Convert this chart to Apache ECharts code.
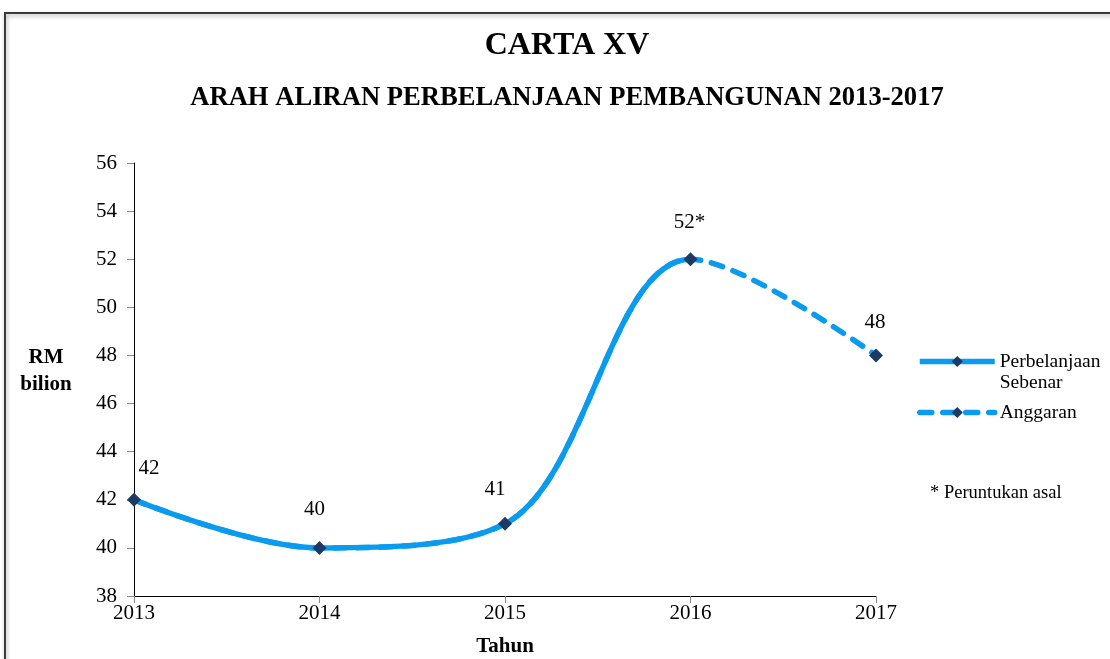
<!DOCTYPE html>
<html><head><meta charset="utf-8">
<script src="https://cdn.jsdelivr.net/npm/echarts@6/dist/echarts.min.js"></script>
<style>html,body{margin:0;padding:0;background:#fff;}#c{width:1110px;height:659px;}</style>
</head><body><div id="c"></div>
<script>
const years = ['2013','2014','2015','2016','2017'];
const actual = [42, 40, 41, 52, 48];
const budget = [42, 40, 41, 52, 48];
const pointLabels = ['42', '40', '41', '52*', '48'];
const yTicks = {min: 38, max: 56, interval: 2};

const serif = '"Liberation Serif", "DejaVu Serif", serif';
const blue = '#0A9BEF';
const navy = '#1B3A64';
const labelOffsets = [[15, 3], [-5, -4], [-10, 0], [-1, -2], [-1, 2]];

const chart = echarts.init(document.getElementById('c'));
chart.setOption({
  backgroundColor: '#fff',
  animation: false,
  title: [
    {text: 'CARTA XV', left: 562, textAlign: 'center', top: 25, textStyle: {fontFamily: serif, fontSize: 32, fontWeight: 'bold', color: '#000'}},
    {text: 'ARAH ALIRAN PERBELANJAAN PEMBANGUNAN 2013-2017', left: 562, textAlign: 'center', top: 80, textStyle: {fontFamily: serif, fontSize: 26.6, fontWeight: 'bold', color: '#000'}}
  ],
  graphic: [
    {type: 'rect', shape: {x: 5, y: 13, width: 1120, height: 660}, style: {fill: 'none', stroke: '#3a3a3a', lineWidth: 2, shadowBlur: 4, shadowColor: 'rgba(0,0,0,0.35)', shadowOffsetX: 1, shadowOffsetY: 2}, silent: true},
    {type: 'text', x: 46, y: 347, style: {text: 'RM', fontFamily: serif, fontSize: 21, fontWeight: 'bold', fill: '#000', align: 'center'}},
    {type: 'text', x: 46, y: 374, style: {text: 'bilion', fontFamily: serif, fontSize: 21, fontWeight: 'bold', fill: '#000', align: 'center'}},
    {type: 'text', left: 930, top: 484, style: {text: '* Peruntukan asal', fontFamily: serif, fontSize: 18.5, fill: '#000'}}
  ],
  grid: {left: 134, right: 234, top: 163, bottom: 63, containLabel: false, outerBoundsMode: 'none'},
  legend: {
    orient: 'vertical', left: 912, top: 325, itemWidth: 75, itemHeight: 14, itemGap: 9,
    textStyle: {fontFamily: serif, fontSize: 19.5, color: '#000', lineHeight: 21},
    formatter: function (name) { return name === 'Perbelanjaan\nSebenar' ? ' \n' + name : name; },
    data: [
      {name: 'Perbelanjaan\nSebenar', itemStyle: {color: navy}, lineStyle: {color: blue, width: 5.5}},
      {name: 'Anggaran', itemStyle: {color: navy}, lineStyle: {color: blue, width: 5.5}}
    ]
  },
  xAxis: {
    type: 'category', data: years, boundaryGap: false,
    name: 'Tahun', nameLocation: 'middle', nameGap: 40,
    nameTextStyle: {fontFamily: serif, fontSize: 21, fontWeight: 'bold', color: '#000'},
    axisLine: {lineStyle: {color: '#000', width: 1}},
    axisTick: {show: true, inside: false, length: 7, lineStyle: {color: '#888'}},
    axisLabel: {fontFamily: serif, fontSize: 21, color: '#000', margin: 7},
    splitLine: {show: false}
  },
  yAxis: {
    type: 'value', min: yTicks.min, max: yTicks.max, interval: yTicks.interval,
    axisLine: {show: true, lineStyle: {color: '#000', width: 1}},
    axisTick: {show: true, length: 7, lineStyle: {color: '#888'}},
    axisLabel: {fontFamily: serif, fontSize: 21, color: '#000', margin: 17},
    splitLine: {show: false}
  },
  visualMap: {
    show: false, type: 'piecewise', seriesIndex: 0, dimension: 0,
    pieces: [{gte: 0, lte: 3, color: blue}, {gt: 3, lte: 4, color: 'rgba(0,0,0,0)'}],
    outOfRange: {color: 'rgba(0,0,0,0)'}
  },
  series: [
    {
      name: 'Perbelanjaan\nSebenar', type: 'line', data: actual, smooth: 0.35, z: 2,
      symbol: 'diamond', symbolSize: 14, showSymbol: false,
      lineStyle: {width: 5.5, cap: 'butt'},
      itemStyle: {color: navy}
    },
    {
      name: 'Anggaran', type: 'line', smooth: 0.35, z: 3,
      data: budget.map((v, i) => ({value: v, label: {formatter: pointLabels[i], offset: labelOffsets[i]}})),
      symbol: 'diamond', symbolSize: 14,
      lineStyle: {color: blue, width: 5.5, type: [12, 11], cap: 'round'},
      itemStyle: {color: navy},
      label: {show: true, position: 'top', distance: 17, fontFamily: serif, fontSize: 21, color: '#000'}
    }
  ]
});
</script></body></html>
